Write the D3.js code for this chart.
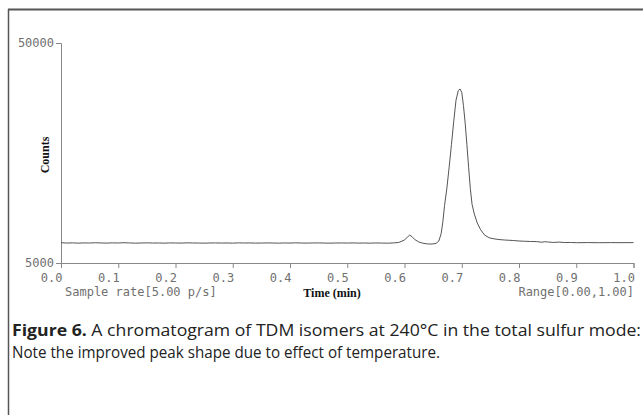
<html>
<head>
<script src="https://d3js.org/d3.v7.min.js"></script>
<style>
body { margin: 0; background: white; }
.mono { font-family: "DejaVu Sans Mono", monospace; fill: #707070; }
.lab { font-family: "Liberation Serif", serif; font-weight: bold; fill: #111; }
.cap { font-family: "Open Sans", "Noto Sans", sans-serif; fill: #222; }
</style>
</head>
<body>
<svg width="643" height="415"></svg>
<script>
// time (min) / counts
var times = [0.000,0.010,0.020,0.030,0.040,0.050,0.060,0.070,0.080,0.090,
  0.100,0.110,0.120,0.130,0.140,0.150,0.160,0.170,0.180,0.190,
  0.200,0.210,0.220,0.230,0.240,0.250,0.260,0.270,0.280,0.290,
  0.300,0.310,0.320,0.330,0.340,0.350,0.360,0.370,0.380,0.390,
  0.400,0.410,0.420,0.430,0.440,0.450,0.460,0.470,0.480,0.490,
  0.500,0.510,0.520,0.530,0.540,0.550,0.560,0.570,0.580,0.590,
  0.600,0.605,0.609,0.613,0.618,0.625,0.632,0.640,0.648,0.655,
  0.660,0.664,0.667,0.670,0.674,0.678,0.682,0.686,0.690,0.694,
  0.697,0.700,0.703,0.706,0.709,0.712,0.715,0.718,0.722,0.727,
  0.733,0.740,0.748,0.756,0.765,0.775,0.790,0.800,0.810,0.820,
  0.830,0.840,0.845,0.850,0.860,0.870,0.880,0.890,0.900,0.920,
  0.940,0.960,0.980,1.000];
var counts = [9150,9080,9120,9060,9110,9090,9140,9100,9070,9120,
  9090,9150,9100,9060,9090,9120,9080,9100,9060,9110,
  9090,9070,9120,9100,9080,9060,9090,9110,9080,9100,
  9060,9120,9090,9100,9070,9080,9110,9090,9060,9100,
  9080,9120,9090,9070,9100,9110,9080,9060,9090,9100,
  9080,9110,9070,9090,9060,9100,9080,9050,9100,9200,
  9700,10300,10700,10400,9800,9300,9050,8900,8880,9000,
  9500,11000,13400,16800,20300,24600,29200,34000,38300,40300,
  40600,39900,37200,33600,29200,24600,20200,17000,15000,13200,
  11800,10700,10150,9950,9800,9700,9600,9500,9450,9400,
  9380,9250,9350,9300,9200,9280,9180,9200,9150,9180,
  9150,9170,9160,9170];
var xTicks = [0,0.1,0.2,0.3,0.4,0.5,0.6,0.7,0.8,0.9,1.0];
var yTicks = [5000,50000];

var svg = d3.select("svg");
var mLeft = 61, mRight = 633.5, mTop = 43, mBottom = 263;
var x = d3.scaleLinear().domain([0,1]).range([mLeft,mRight]);
var y = d3.scaleLinear().domain([5000,50000]).range([mBottom,mTop]);

// frame
svg.append("line").attr("x1",8).attr("x2",643).attr("y1",9.5).attr("y2",9.5)
  .attr("stroke","#555").attr("stroke-width",2);
svg.append("line").attr("x1",8.5).attr("x2",8.5).attr("y1",9).attr("y2",415)
  .attr("stroke","#555").attr("stroke-width",1.5);

// axes
var xa = svg.append("g").attr("transform","translate(0,"+mBottom+")")
  .call(d3.axisBottom(x).tickValues(xTicks).tickSize(5).tickFormat(d3.format(".1f")));
xa.selectAll("text").attr("class","mono").attr("text-anchor","end")
  .attr("dx","1").attr("y",19).attr("dy",0).style("font-size","12px").attr("fill",null);
var ya = svg.append("g").attr("transform","translate("+mLeft+",0)")
  .call(d3.axisLeft(y).tickValues(yTicks).tickSize(5).tickFormat(d3.format("d")));
ya.selectAll("text").attr("class","mono").style("font-size","12px").attr("fill",null).attr("x",-7);
svg.selectAll(".domain, .tick line").attr("stroke","#888");

// trace
var line = d3.line().x(function(d,i){return x(times[i]);}).y(function(d){return y(d);});
svg.append("path").datum(counts).attr("d",line).attr("fill","none")
  .attr("stroke","#555").attr("stroke-width",1);

// labels
svg.append("text").attr("class","mono").attr("x",65).attr("y",296).style("font-size","12px")
  .text("Sample rate[5.00 p/s]");
svg.append("text").attr("class","mono").attr("x",634).attr("y",296).attr("text-anchor","end")
  .style("font-size","12px").text("Range[0.00,1.00]");
svg.append("text").attr("class","lab").attr("x",332).attr("y",297).attr("text-anchor","middle")
  .style("font-size","12px").text("Time (min)");
svg.append("text").attr("class","lab").attr("transform","translate(49,155) rotate(-90)")
  .attr("text-anchor","middle").style("font-size","12px").text("Counts");

// caption
var c1 = svg.append("text").attr("class","cap").attr("x",12).attr("y",336)
  .style("font-size","16.5px").attr("textLength",629).attr("lengthAdjust","spacingAndGlyphs");
c1.append("tspan").style("font-weight","bold").text("Figure 6.");
c1.append("tspan").text(" A chromatogram of TDM isomers at 240°C in the total sulfur mode:");
svg.append("text").attr("class","cap").attr("x",12).attr("y",358)
  .style("font-size","16.5px").attr("textLength",428).attr("lengthAdjust","spacingAndGlyphs")
  .text("Note the improved peak shape due to effect of temperature.");
</script>
</body>
</html>
